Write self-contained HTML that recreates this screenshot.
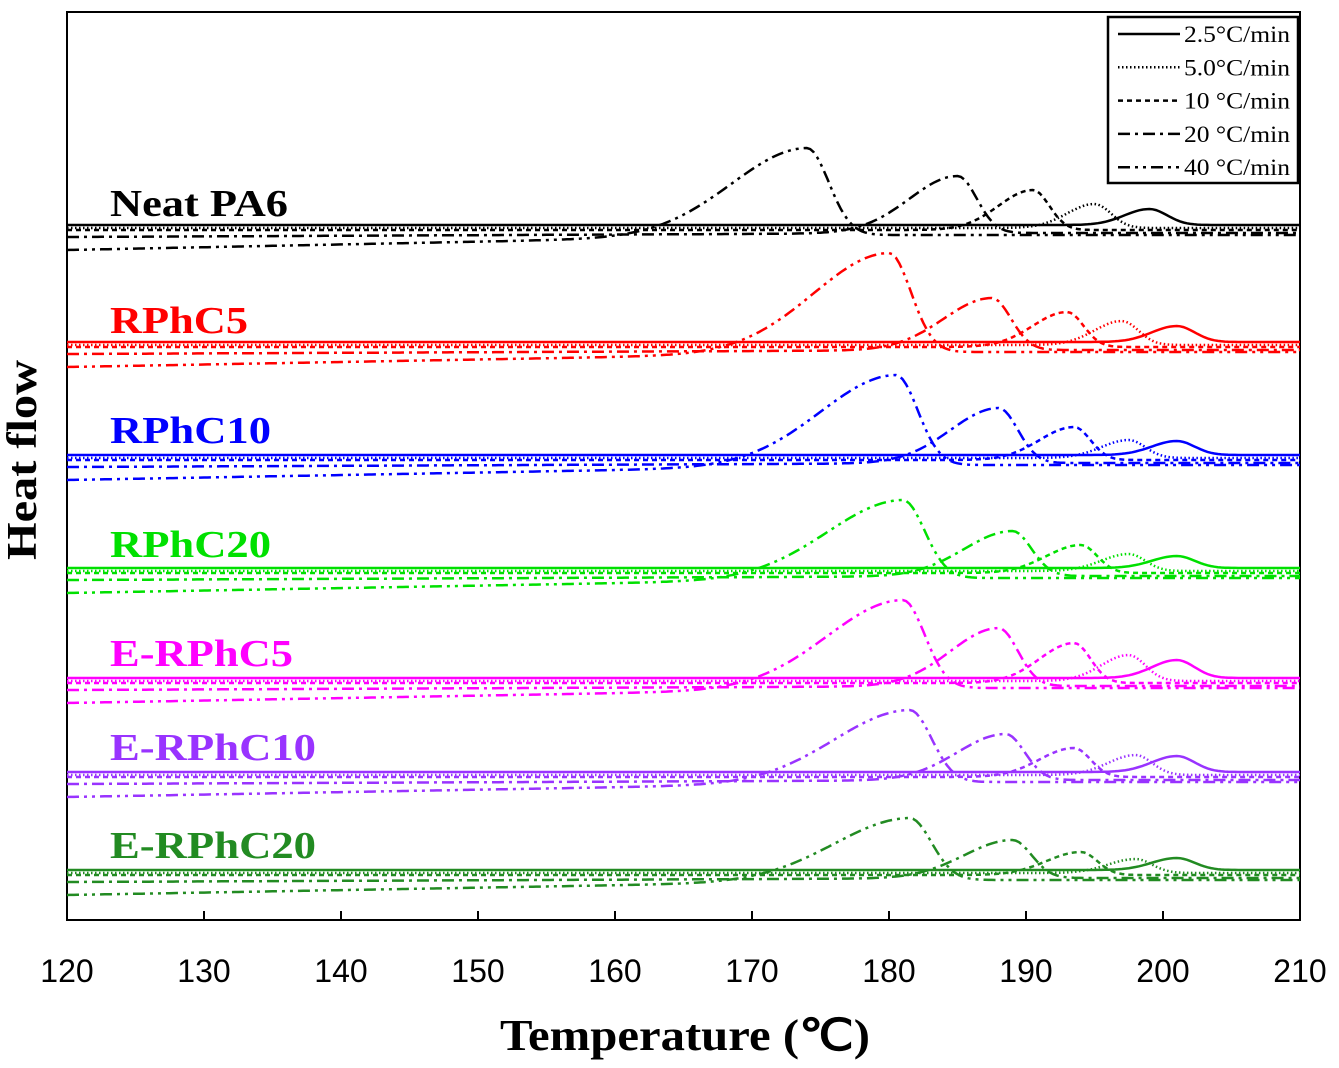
<!DOCTYPE html>
<html><head><meta charset="utf-8"><style>
body{margin:0;background:#fff;}
svg{display:block;}
</style></head><body>
<svg id="chart" width="1339" height="1068" viewBox="0 0 1339 1068" xmlns="http://www.w3.org/2000/svg">
<rect x="67" y="12" width="1233" height="908" fill="none" stroke="#000" stroke-width="2"/>
<g id="curves"></g>
<g id="labels"></g>
<g id="xaxis"></g>
<text x="500" y="1050" textLength="370" lengthAdjust="spacingAndGlyphs" font-family="Liberation Serif, serif" font-weight="bold" font-size="44">Temperature (℃)</text>
<text transform="translate(36,460) rotate(-90)" x="-100" y="0" textLength="200" lengthAdjust="spacingAndGlyphs" font-family="Liberation Serif, serif" font-weight="bold" font-size="42">Heat flow</text>
<g>
<rect x="1108" y="17" width="190" height="166" fill="#fff" stroke="#000" stroke-width="2.5"/>
<g id="legend-entries"></g>
</g>
</svg>
<script>
const samples = ["Neat PA6","RPhC5","RPhC10","RPhC20","E-RPhC5","E-RPhC10","E-RPhC20"];
const colors = ["#000000","#ff0000","#0000ff","#00e000","#ff00ff","#9933ff","#228b22"];
const baselines = [225,342,455,568,678,772,870];
const labelY = [216,333,443,557,666,760,858];
const labelW = [178,138,161,161,183,206,206];
const rates = ["2.5°C/min","5.0°C/min","10 °C/min","20 °C/min","40 °C/min"];
// peak temperatures [2.5,5,10,20,40] per sample
const peakT = [
 [199,195,190.5,185,174],
 [201,197,193,187.5,180],
 [201,197.5,193.5,188,180.5],
 [201,197.5,194,189,181],
 [201,197.5,193.5,188,181],
 [201,198,193.5,188.5,181.5],
 [201,198,194,189,181.5]];
// peak heights (heat flow units, ~px)
const peakH = [
 [16,24,40,57,87],
 [16,24,35,52,99],
 [14,18,33,55,90],
 [12,17,28,45,78],
 [18,26,40,58,88],
 [16,20,29,46,72],
 [12,14,23,38,62]];
const xTicks = [120,130,140,150,160,170,180,190,200,210];

const X0=67,X1=1300,T0=120,T1=210;
const xs=t=>X0+(t-T0)/(T1-T0)*(X1-X0);
const dashes=["","1.5,2.5","5,4","12,5,3,5","12,5,3,5,3,5"];
const sigL=[1.8,2,2.5,3.5,5.5], sigR=[1.3,1.2,1.2,1.4,1.6];
const offs=[0,3,5,8,10];
const NS="http://www.w3.org/2000/svg";
const cg=document.getElementById('curves');
samples.forEach((s,i)=>{
  for(let r=4;r>=0;r--){
    const pts=[];
    for(let t=T0;t<=T1;t+=0.25){
      const tp=peakT[i][r], sg=t<tp?sigL[r]:sigR[r];
      let base=baselines[i]+offs[r];
      if(r===4){ base += t<tp ? 15*(tp-t)/(tp-T0) : 0; }
      if(r===3){ base += t<tp ? 4*(tp-t)/(tp-T0) : 0; }
      const y=base-peakH[i][r]*Math.exp(-0.5*((t-tp)/sg)**2);
      pts.push(xs(t).toFixed(1)+","+y.toFixed(1));
    }
    const p=document.createElementNS(NS,'polyline');
    p.setAttribute('points',pts.join(' '));
    p.setAttribute('fill','none');
    p.setAttribute('stroke',colors[i]);
    p.setAttribute('stroke-width','2.5');
    if(dashes[r])p.setAttribute('stroke-dasharray',dashes[r]);
    
    
    cg.appendChild(p);
  }
  const tx=document.createElementNS(NS,'text');
  tx.setAttribute('x',110);tx.setAttribute('y',labelY[i]);
  tx.setAttribute('fill',colors[i]);
  tx.setAttribute('font-family','Liberation Serif, serif');
  tx.setAttribute('font-weight','bold');tx.setAttribute('font-size','38');
  tx.setAttribute('textLength',labelW[i]);
  tx.setAttribute('lengthAdjust','spacingAndGlyphs');
  tx.textContent=s;
  
  
  document.getElementById('labels').appendChild(tx);
});
const xa=document.getElementById('xaxis');
xTicks.forEach(t=>{
  const l=document.createElementNS(NS,'line');
  l.setAttribute('x1',xs(t));l.setAttribute('x2',xs(t));
  l.setAttribute('y1',920);l.setAttribute('y2',911);
  l.setAttribute('stroke','#000');l.setAttribute('stroke-width','2');
  
  
  xa.appendChild(l);
  const tx=document.createElementNS(NS,'text');
  tx.setAttribute('x',xs(t));tx.setAttribute('y',982);
  tx.setAttribute('text-anchor','middle');
  tx.setAttribute('font-family','Liberation Sans, sans-serif');
  tx.setAttribute('font-size','32');
  tx.textContent=t;
  
  
  xa.appendChild(tx);
});
const lg=document.getElementById('legend-entries');
rates.forEach((r,k)=>{
  const y=34+k*33.3;
  const l=document.createElementNS(NS,'line');
  l.setAttribute('x1',1118);l.setAttribute('x2',1180);l.setAttribute('y1',y);l.setAttribute('y2',y);
  l.setAttribute('stroke','#000');l.setAttribute('stroke-width','2.5');
  if(dashes[k])l.setAttribute('stroke-dasharray',dashes[k]);
  
  
  lg.appendChild(l);
  const tx=document.createElementNS(NS,'text');
  tx.setAttribute('x',1184);tx.setAttribute('y',y+8);
  tx.setAttribute('font-family','Liberation Serif, serif');tx.setAttribute('font-size','23');
  tx.setAttribute('textLength','106');
  tx.setAttribute('lengthAdjust','spacingAndGlyphs');
  tx.textContent=r;
  
  
  lg.appendChild(tx);
});
</script>
</body></html>
